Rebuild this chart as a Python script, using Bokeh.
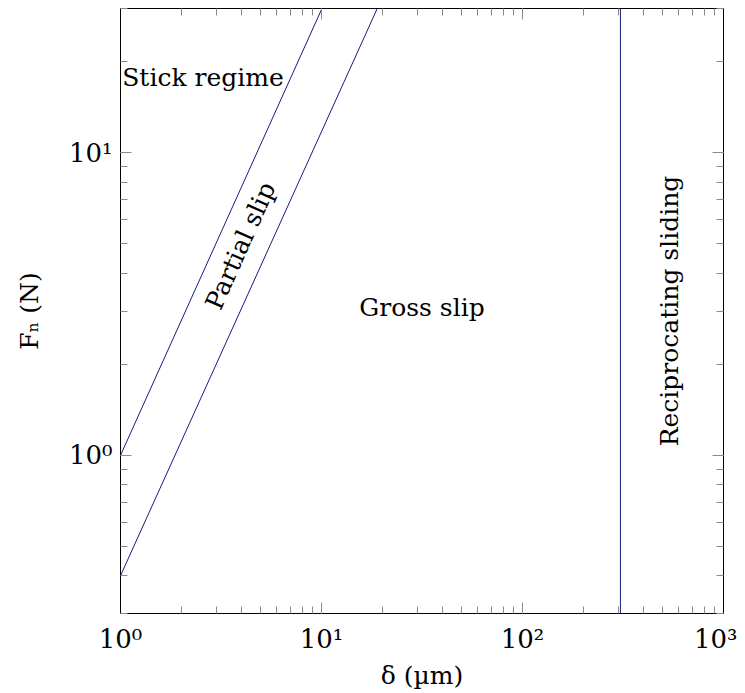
import math
from bokeh.plotting import figure
from bokeh.models import LogAxis, ColumnDataSource, Range1d
from bokeh.core.properties import value
from bokeh.embed import file_html
from bokeh.resources import INLINE

# Boundary lines (delta in um, Fn in N)
stick_delta = [1.0, 10.5]
stick_fn = [1.0, 32.0]
partial_delta = [1.0, 20.0]
partial_fn = [0.4, 32.5]
recip_delta = [307.0, 307.0]
recip_fn = [0.3, 30.0]

# Region labels
label_text = ["Stick regime", "Partial slip", "Gross slip", "Reciprocating sliding"]
label_delta = [1.02, 3.95, 31.6, 540.0]
label_fn = [17.8, 4.93, 3.08, 3.0]
label_angle = [0.0, 66.0, 0.0, 90.0]
label_align = ["left", "center", "center", "center"]

x_ticks = [1, 10, 100, 1000]
x_tick_labels = ["10\u2070", "10\u00b9", "10\u00b2", "10\u00b3"]
y_ticks = [1, 10]
y_tick_labels = ["10\u2070", "10\u00b9"]

FONT = "DejaVu Serif"
LINE = "#1a1a80"

p = figure(x_axis_type="log", y_axis_type="log",
           x_range=Range1d(1, 1000), y_range=Range1d(0.3, 30),
           frame_width=603, frame_height=605,
           min_border_left=120, min_border_right=14, min_border_top=8, min_border_bottom=78,
           output_backend="svg", toolbar_location=None)
p.grid.visible = False
p.outline_line_color = "black"
p.outline_line_width = 1
p.background_fill_color = "white"
p.border_fill_color = "white"

p.line(stick_delta, stick_fn, line_color=LINE, line_width=1)
p.line(partial_delta, partial_fn, line_color=LINE, line_width=1)
p.line(recip_delta, recip_fn, line_color=LINE, line_width=1)

src = ColumnDataSource(dict(x=label_delta, y=label_fn, t=label_text,
                            a=[math.radians(v) for v in label_angle], al=label_align))
p.text(x="x", y="y", text="t", angle="a", text_align="al", text_baseline="middle",
       text_font=value(FONT), text_font_size="25px", text_color="black", source=src)

def style(ax, labels=True):
    ax.axis_line_color = "black"
    ax.major_tick_in = 11
    ax.major_tick_out = 0
    ax.minor_tick_in = 7
    ax.minor_tick_out = 0
    ax.major_tick_line_color = "#8a8a8a"
    ax.minor_tick_line_color = "#8a8a8a"
    ax.major_label_text_font = FONT
    ax.major_label_text_font_size = "26px"
    ax.major_label_text_color = "black"
    ax.axis_label_text_font = FONT
    ax.axis_label_text_font_size = "25px"
    ax.axis_label_text_font_style = "normal"
    ax.axis_label_text_color = "black"
    if not labels:
        ax.major_label_text_font_size = "1px"
        ax.major_label_text_color = None
        ax.major_label_standoff = 0

style(p.xaxis[0])
style(p.yaxis[0])
p.xaxis[0].ticker.num_minor_ticks = 10
p.yaxis[0].ticker.num_minor_ticks = 10
p.xaxis[0].major_label_overrides = dict(zip(x_ticks, x_tick_labels))
p.yaxis[0].major_label_overrides = dict(zip(y_ticks, y_tick_labels))
p.xaxis[0].axis_label = "\u03b4 (\u00b5m)"
p.yaxis[0].axis_label = "F\u2099 (N)"
p.xaxis[0].major_label_standoff = 10
p.yaxis[0].major_label_standoff = 8
p.xaxis[0].axis_label_standoff = 4
p.yaxis[0].axis_label_standoff = 22

top = LogAxis()
right = LogAxis()
for ax in (top, right):
    style(ax, labels=False)
    ax.ticker.num_minor_ticks = 10
p.add_layout(top, "above")
p.add_layout(right, "right")

open("out.html", "w").write(file_html(p, INLINE))
